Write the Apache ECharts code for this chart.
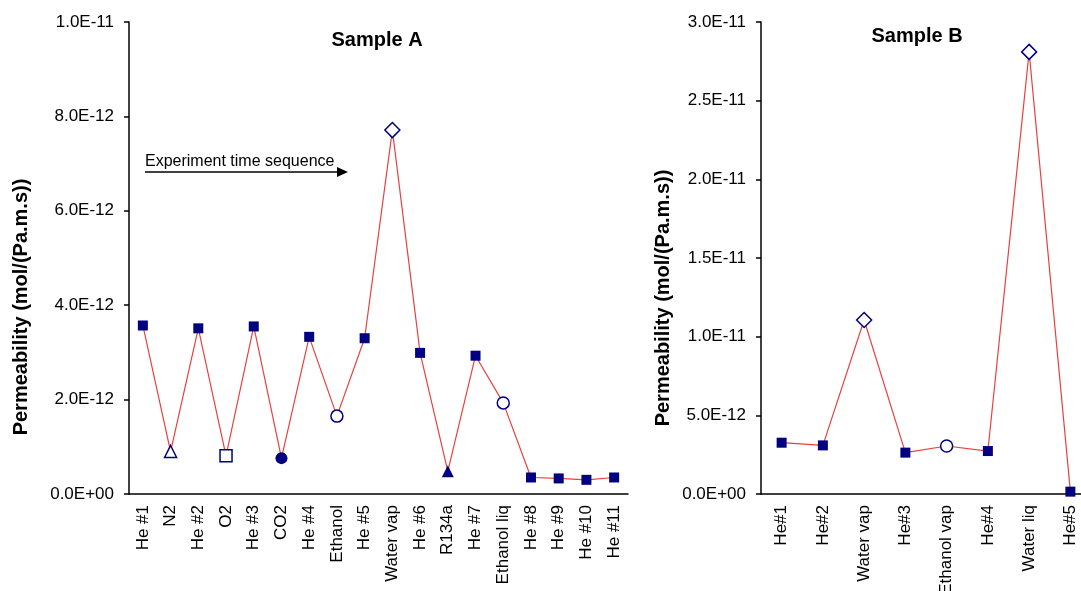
<!DOCTYPE html>
<html>
<head>
<meta charset="utf-8">
<script src="https://cdn.jsdelivr.net/npm/echarts@6/dist/echarts.min.js"></script>
<style>
  html, body { margin: 0; padding: 0; background: #fff; }
  #chart { width: 1081px; height: 591px; }
</style>
</head>
<body>
<div id="chart"></div>
<script>
// Sample A: gases in the order they were tested
var gasesA = ["He #1", "N2", "He #2", "O2", "He #3", "CO2", "He #4", "Ethanol", "He #5",
  "Water vap", "He #6", "R134a", "He #7", "Ethanol liq", "He #8", "He #9", "He #10", "He #11"];
var permA = [3.57e-12, 0.90e-12, 3.51e-12, 0.81e-12, 3.55e-12, 0.76e-12, 3.33e-12, 1.65e-12, 3.30e-12,
  7.71e-12, 2.99e-12, 0.48e-12, 2.93e-12, 1.93e-12, 0.35e-12, 0.33e-12, 0.30e-12, 0.35e-12];

// Sample B
var gasesB = ["He#1", "He#2", "Water vap", "He#3", "Ethanol vap", "He#4", "Water liq", "He#5"];
var permB = [3.26e-12, 3.09e-12, 1.106e-11, 2.63e-12, 3.05e-12, 2.73e-12, 2.81e-11, 0.15e-12];

var navy = "#000080";
var lineRed = "#e8413f";
var font = "'Liberation Sans', Arial, sans-serif";

// marker look for each gas
var markers = {
  "N2": { symbol: "triangle", size: 12, filled: false },
  "O2": { symbol: "rect", size: 12, filled: false },
  "CO2": { symbol: "circle", size: 12, filled: true },
  "Ethanol": { symbol: "circle", size: 12, filled: false },
  "Ethanol liq": { symbol: "circle", size: 12, filled: false },
  "Ethanol vap": { symbol: "circle", size: 12, filled: false },
  "Water vap": { symbol: "diamond", size: 15, filled: false },
  "Water liq": { symbol: "diamond", size: 15, filled: false },
  "R134a": { symbol: "triangle", size: 12, filled: true }
};

function points(names, values) {
  return values.map(function (v, i) {
    var m = markers[names[i]] || { symbol: "rect", size: 10, filled: true };
    return {
      value: v,
      symbol: m.symbol,
      symbolSize: m.size,
      itemStyle: {
        color: m.filled ? navy : "#fff",
        borderColor: navy,
        borderWidth: m.filled ? 0 : 1.5
      }
    };
  });
}

function sci(v) {
  if (v === 0) return "0.0E+00";
  var s = v.toExponential(1).toUpperCase();
  var parts = s.split("E");
  var sign = parts[1].charAt(0);
  var digits = parts[1].slice(1);
  if (digits.length < 2) digits = "0" + digits;
  return parts[0] + "E" + sign + digits;
}

function xAxis(idx, names) {
  return {
    type: "category",
    gridIndex: idx,
    data: names,
    axisLine: { lineStyle: { color: "#000", width: 1.5 } },
    axisTick: { length: 5, lineStyle: { color: "#000", width: 1.5 } },
    axisLabel: { rotate: 90, interval: 0, margin: 11, color: "#000", fontSize: 17, fontFamily: font }
  };
}

// shift moves the rotated axis name down the page
function yAxis(idx, max, interval, gap, shift) {
  return {
    type: "value",
    gridIndex: idx,
    min: 0,
    max: max,
    interval: interval,
    name: "Permeability (mol/(Pa.m.s))",
    nameLocation: "middle",
    nameGap: gap,
    nameTextStyle: { fontSize: 20, fontWeight: "bold", color: "#000", fontFamily: font,
      padding: [0, shift * 2, 0, 0] },
    axisLine: { show: true, lineStyle: { color: "#000", width: 1.5 } },
    axisTick: { show: true, length: 5, lineStyle: { color: "#000", width: 1.5 } },
    splitLine: { show: false },
    axisLabel: { margin: 15, color: "#000", fontSize: 17, fontFamily: font, formatter: sci }
  };
}

var chart = echarts.init(document.getElementById("chart"));
chart.setOption({
  animation: false,
  backgroundColor: "#fff",
  title: [
    { text: "Sample A", left: 372, top: 25, textAlign: "center",
      textStyle: { fontSize: 20, fontWeight: "bold", color: "#000", fontFamily: font } },
    { text: "Sample B", left: 912, top: 21, textAlign: "center",
      textStyle: { fontSize: 20, fontWeight: "bold", color: "#000", fontFamily: font } }
  ],
  grid: [
    { left: 129, top: 22, width: 499, height: 472, outerBoundsMode: "none" },
    { left: 761, top: 22, width: 330, height: 472, outerBoundsMode: "none" }
  ],
  xAxis: [xAxis(0, gasesA), xAxis(1, gasesB)],
  yAxis: [yAxis(0, 1e-11, 2e-12, 98, 49), yAxis(1, 3e-11, 5e-12, 88, 40)],
  series: [
    { type: "line", xAxisIndex: 0, yAxisIndex: 0, data: points(gasesA, permA),
      lineStyle: { color: lineRed, width: 1.2 }, z: 3 },
    { type: "line", xAxisIndex: 1, yAxisIndex: 1, data: points(gasesB, permB),
      lineStyle: { color: lineRed, width: 1.2 }, z: 3 }
  ],
  graphic: [
    { type: "text", left: 145, top: 154,
      style: { text: "Experiment time sequence", fontSize: 16, fill: "#000", fontFamily: font } },
    { type: "line", shape: { x1: 145, y1: 172, x2: 340, y2: 172 },
      style: { stroke: "#000", lineWidth: 1.5 } },
    { type: "polygon", shape: { points: [[337, 167], [348, 172], [337, 177]] },
      style: { fill: "#000" } }
  ]
});
</script>
</body>
</html>
